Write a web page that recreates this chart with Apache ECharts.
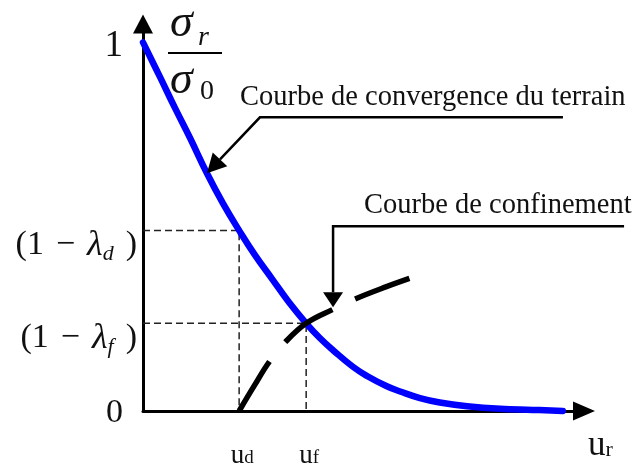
<!DOCTYPE html>
<html>
<head>
<meta charset="utf-8">
<script src="https://cdn.jsdelivr.net/npm/echarts@6/dist/echarts.min.js"></script>
<style>
  html, body { margin: 0; padding: 0; background: #ffffff; }
  #chart { width: 632px; height: 469px; }
</style>
</head>
<body>
<div id="chart"></div>
<script>
// Méthode convergence-confinement : contrainte radiale normalisée σr/σ0
// en fonction du déplacement radial ur (abscisse normalisée).
const uD = 0.218;   // déplacement u_d
const uF = 0.370;   // déplacement u_f (équilibre)
const sD = 0.490;   // niveau (1 − λd)
const sF = 0.238;   // niveau (1 − λf)

// Courbe de convergence du terrain
const convergenceU = [0, 0.039, 0.073, 0.107, 0.145, 0.181, 0.218, 0.254, 0.293, 0.331,
                      0.370, 0.401, 0.431, 0.476, 0.508, 0.553, 0.583, 0.628, 0.673, 0.735,
                      0.810, 0.884, 0.952];
const convergenceS = [1.000, 0.905, 0.821, 0.740, 0.645, 0.564, 0.490, 0.423, 0.358, 0.295,
                      0.238, 0.198, 0.165, 0.120, 0.095, 0.067, 0.053, 0.035, 0.023, 0.013,
                      0.006, 0.003, 0];

// Courbe de confinement (soutènement posé en u_d)
const confinementU = [0.218, 0.252, 0.286, 0.322, 0.370, 0.431, 0.481, 0.549, 0.612];
const confinementS = [0, 0.068, 0.133, 0.186, 0.238, 0.276, 0.304, 0.336, 0.363];

// Graduations
const yTickValues = [0, sF, sD, 1];
const yTickSubs = ['', 'f', 'd', ''];
const xTickValues = [uD, uF];
const xTickSubs = ['d', 'f'];

const SERIF = '"Liberation Serif", "Times New Roman", serif';
const INK = '#111111';

function pairs(xs, ys) {
  return xs.map(function (x, i) { return [x, ys[i]]; });
}
function nearestIndex(list, v) {
  let best = 0;
  list.forEach(function (t, i) { if (Math.abs(t - v) < Math.abs(list[best] - v)) best = i; });
  return best;
}

const LAMBDA_PAD = 30;
const yRich = {
  one:  { fontFamily: SERIF, fontSize: 37, color: INK, padding: [7, 14, 0, 0] },
  zero: { fontFamily: SERIF, fontSize: 34, color: INK, padding: [4, 14, 0, 0] },
  par:  { fontFamily: SERIF, fontSize: 34, color: INK, padding: [LAMBDA_PAD, 0, 0, 0] },
  gap:  { fontFamily: SERIF, fontSize: 34, width: 12, padding: [LAMBDA_PAD, 0, 0, 0] },
  lam:  { fontFamily: SERIF, fontSize: 36, fontStyle: 'italic', color: INK, padding: [LAMBDA_PAD, 0, 0, 0] },
  sub:  { fontFamily: SERIF, fontSize: 22, fontStyle: 'italic', color: INK, padding: [LAMBDA_PAD + 18, 0, 0, 0] }
};
const uRich = {
  u: { fontFamily: SERIF, fontSize: 27, color: INK, padding: [0, 0, 0, 6] },
  s: { fontFamily: SERIF, fontSize: 19, color: INK, padding: [6, 0, 0, 0] }
};
const urRich = {
  u: { fontFamily: SERIF, fontSize: 35, color: INK },
  s: { fontFamily: SERIF, fontSize: 22, color: INK, padding: [8, 0, 0, 0] }
};

const option = {
  animation: false,
  backgroundColor: '#ffffff',
  grid: { left: 143, right: 48, top: 24, bottom: 58, containLabel: false },
  xAxis: {
    type: 'value',
    min: 0,
    max: 1,
    axisLine: {
      show: true,
      symbol: ['none', 'triangle'],
      symbolSize: [19, 22],
      lineStyle: { color: '#000000', width: 3 }
    },
    axisTick: { show: false },
    splitLine: { show: false },
    axisLabel: {
      customValues: xTickValues,
      margin: 31,
      formatter: function (v) {
        return '{u|u}{s|' + xTickSubs[nearestIndex(xTickValues, v)] + '}';
      },
      rich: uRich
    },
    name: '{u|u}{s|r}',
    nameLocation: 'end',
    nameGap: 4,
    nameTextStyle: { padding: [70, 0, 0, 0], rich: urRich }
  },
  yAxis: {
    type: 'value',
    min: 0,
    max: 1.05,
    axisLine: {
      show: true,
      symbol: ['none', 'triangle'],
      symbolSize: [20, 19],
      lineStyle: { color: '#000000', width: 3 }
    },
    axisTick: { show: false },
    splitLine: { show: false },
    axisLabel: {
      customValues: yTickValues,
      margin: 6,
      formatter: function (v) {
        const i = nearestIndex(yTickValues, v);
        if (v < 0.01) return '{zero|0}';
        if (v > 0.99) return '{one|1}';
        return '{par|(1}{gap| }{par|−}{gap| }{lam|λ}{sub|' + yTickSubs[i] + '}{gap| }{par|)}';
      },
      rich: yRich
    }
  },
  series: [
    {
      name: 'repère d',
      type: 'line',
      data: [[0, sD], [uD, sD], [uD, 0]],
      symbol: 'none',
      silent: true,
      clip: false,
      z: 1,
      lineStyle: { color: '#222222', width: 1.5, type: [7, 4] }
    },
    {
      name: 'repère f',
      type: 'line',
      data: [[0, sF], [uF, sF], [uF, 0]],
      symbol: 'none',
      silent: true,
      clip: false,
      z: 1,
      lineStyle: { color: '#222222', width: 1.5, type: [7, 4] }
    },
    {
      name: 'Courbe de convergence du terrain',
      type: 'line',
      data: pairs(convergenceU, convergenceS),
      smooth: 0.45,
      symbol: 'none',
      silent: true,
      clip: false,
      z: 3,
      lineStyle: { color: '#0000ff', width: 6.5, cap: 'round', join: 'round' }
    },
    {
      name: 'Courbe de confinement',
      type: 'line',
      data: pairs(confinementU, confinementS),
      smooth: 0.4,
      symbol: 'none',
      silent: true,
      clip: false,
      z: 4,
      lineStyle: { color: '#000000', width: 5.5, type: [58, 25], cap: 'butt' }
    }
  ]
};

const chart = echarts.init(document.getElementById('chart'), null, { renderer: 'canvas' });
chart.setOption(option);

// Flèches d'annotation ancrées sur les courbes
function arrowHead(tip, from, len, half) {
  const dx = tip[0] - from[0], dy = tip[1] - from[1];
  const L = Math.hypot(dx, dy);
  const ux = dx / L, uy = dy / L;
  const bx = tip[0] - ux * len, by = tip[1] - uy * len;
  return {
    points: [[tip[0], tip[1]], [bx - uy * half, by + ux * half], [bx + uy * half, by - ux * half]],
    base: [bx, by]
  };
}

const tipA = chart.convertToPixel({ gridIndex: 0 }, [convergenceU[4], convergenceS[4]]);
const bendA = [tipA[0] + 53, tipA[1] - 56];
const endA = [bendA[0] + 303, bendA[1]];
const headA = arrowHead(tipA, bendA, 19, 10);

const onB = chart.convertToPixel({ gridIndex: 0 }, [confinementU[5], confinementS[5]]);
const tipB = [onB[0], onB[1] - 2];
const cornerB = [tipB[0], tipB[1] - 81];
const endB = [cornerB[0] + 291, cornerB[1]];
const headB = arrowHead(tipB, cornerB, 15, 10);

function label(text, x, y, size, italic) {
  return {
    type: 'text',
    x: x,
    y: y,
    silent: true,
    z: 10,
    style: {
      text: text,
      fill: INK,
      fontFamily: SERIF,
      fontSize: size,
      fontStyle: italic ? 'italic' : 'normal',
      align: 'left',
      verticalAlign: 'middle',
      textAlign: 'left',
      textVerticalAlign: 'middle'
    }
  };
}

chart.setOption({
  graphic: [
    { type: 'polyline', silent: true, z: 10,
      shape: { points: [endA, bendA, headA.base] },
      style: { stroke: '#000000', lineWidth: 2.5, fill: null } },
    { type: 'polygon', silent: true, z: 10,
      shape: { points: headA.points }, style: { fill: '#000000' } },
    label('Courbe de convergence du terrain', bendA[0] - 20, bendA[1] - 20, 28.5, false),

    { type: 'polyline', silent: true, z: 10,
      shape: { points: [endB, cornerB, headB.base] },
      style: { stroke: '#000000', lineWidth: 2.5, fill: null } },
    { type: 'polygon', silent: true, z: 10,
      shape: { points: headB.points }, style: { fill: '#000000' } },
    label('Courbe de confinement', cornerB[0] + 31, cornerB[1] - 21, 28.5, false),

    // σr / σ0 en tête de l'axe des ordonnées
    label('σ', 170, 24, 46, true),
    label('r', 198, 38, 28, true),
    { type: 'line', silent: true, z: 10,
      shape: { x1: 168, y1: 53, x2: 222, y2: 53 },
      style: { stroke: '#000000', lineWidth: 2 } },
    label('σ', 170, 81, 46, true),
    label('0', 200, 92, 28, false)
  ]
});
</script>
</body>
</html>
